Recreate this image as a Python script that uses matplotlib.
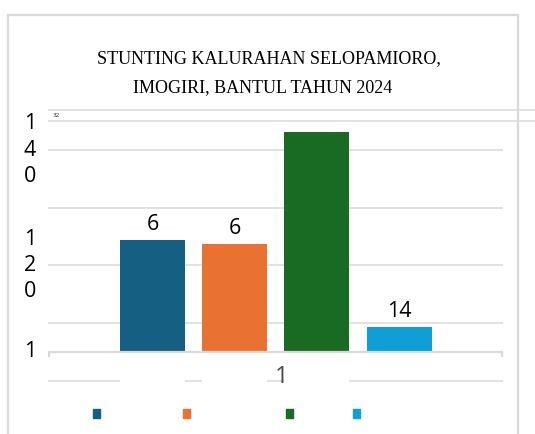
import matplotlib
matplotlib.use('Agg')
import matplotlib.pyplot as plt
from matplotlib.patches import Rectangle

# chart data
title_lines = ['STUNTING KALURAHAN SELOPAMIORO,', 'IMOGIRI, BANTUL TAHUN 2024']
positions = [0, 1, 2, 3]
values = [62, 60, 122, 14]
value_labels = ['6', '6', '', '14']
colors = ['#156082', '#E97132', '#196B24', '#0F9ED5']
category_label = '1'
ytick_values = [0, 48, 112]
ytick_labels = ['1', '1\n2\n0', '1\n4\n0']
grid_values = [-16, 16, 48, 80, 112]
top_lines = [128, 134]
legend_x = [96.6, 186, 289, 356.6]

W, H = 535, 434
GRID = '#d9d9d9'
plt.rcParams['font.family'] = ['Open Sans', 'DejaVu Sans']

fig = plt.figure(figsize=(W / 100, H / 100), dpi=100)


def fx(px):
    return px / W


def fy(py):
    return 1 - py / H


# outer chart border
fig.add_artist(Rectangle((fx(7.5), -0.05), fx(518) - fx(7.5), fy(14.5) + 0.05,
                         transform=fig.transFigure, fill=False,
                         edgecolor=GRID, lw=1.6))

ax = fig.add_axes([fx(48), fy(388), 1 - fx(48), fy(99.6) - fy(388)])
ax.set_xlim(-1.271, 4.653)
ax.set_ylim(-20, 140)
ax.axis('off')
x_end = 4.264

ax.hlines(grid_values, -1.271, x_end, color=GRID, lw=1.1, zorder=1)
ax.hlines(top_lines, -1.271, 4.65, color=GRID, lw=1.1, zorder=1)
ax.hlines(0, -1.271, x_end, color=GRID, lw=1.6, zorder=4)
ax.vlines([-1.262, x_end - 0.01], -3, 0, color=GRID, lw=1.6, zorder=4)

# white ghosts under the first three bars break the lowest line
ax.bar(positions[:3], [-19] * 3, width=0.79, color='white', zorder=2)
bars = ax.bar(positions, values, width=0.79, color=colors, zorder=3)

for b, lbl in zip(bars, value_labels):
    if lbl:
        ax.annotate(lbl, (b.get_x() + b.get_width() / 2, b.get_height()),
                    xytext=(0, 11), textcoords='offset points',
                    ha='center', va='center', fontsize=15.5,
                    fontweight='medium', color='black')

for v, lbl in zip(ytick_values, ytick_labels):
    ax.text(-0.037, v, lbl, transform=ax.get_yaxis_transform(),
            ha='center', va='center', fontsize=15.5, linespacing=1.32,
            fontweight='medium', color='black')

ax.text(1.575, -14, category_label, ha='center', va='center', fontsize=17,
        fontweight='medium', color='#4a4a4a', zorder=5)
ax.text(-1.22, 131, '32', ha='left', va='center', fontsize=4.5, color='#222222')

fig.text(fx(268.5), fy(59), title_lines[0], ha='center', va='center',
         fontsize=13, family='Liberation Serif', color='black')
fig.text(fx(263), fy(88), title_lines[1], ha='center', va='center',
         fontsize=13, family='Liberation Serif', color='black')

for x, c in zip(legend_x, colors):
    fig.add_artist(Rectangle((fx(x - 3.5), fy(418)), 7 / W, 9 / H,
                             transform=fig.transFigure, color=c))

fig.savefig('out.png', dpi=100)
